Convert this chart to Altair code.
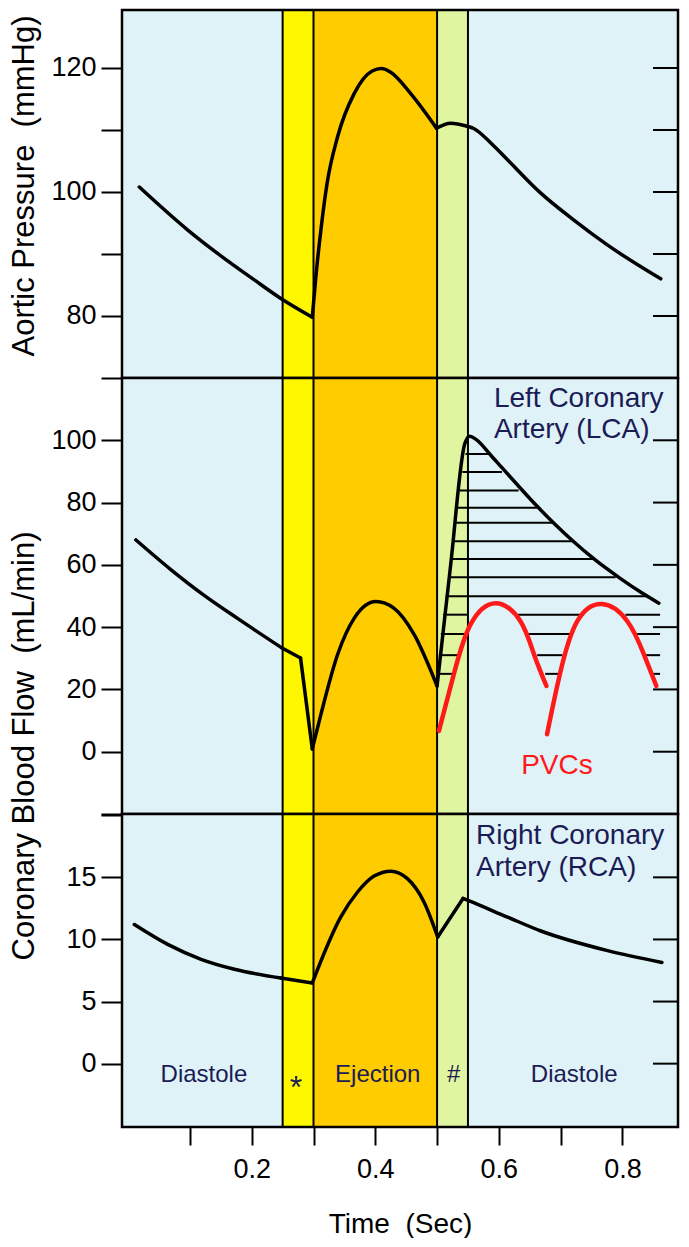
import altair as alt
import pandas as pd

# ---------------- data ----------------
phase_names = ["Late diastole", "Isovolumic contraction", "Ejection", "Isovolumic relaxation", "Early diastole"]
phase_start = [-0.01, 0.25, 0.30, 0.50, 0.55]
phase_end = [0.25, 0.30, 0.50, 0.55, 0.89]
phase_colors = ["#dff2f8", "#fff700", "#ffcc00", "#e0f5a0", "#dff2f8"]
phase_bounds = [0.25, 0.30, 0.50, 0.55]

ao_t = [
    [0.018, 0.096, 0.150, 0.203, 0.249, 0.298],
    [0.298, 0.304, 0.312, 0.322, 0.339, 0.366, 0.395, 0.410, 0.425, 0.457, 0.499],
    [0.499, 0.522, 0.549],
    [0.549, 0.560, 0.587, 0.614, 0.667, 0.721, 0.775, 0.862],
]
ao_p = [
    [100.8, 93.9, 89.7, 85.9, 82.7, 79.8],
    [79.8, 86.5, 93.9, 101.4, 108.9, 115.9, 119.5, 119.9, 119.3, 115.9, 110.3],
    [110.3, 111.1, 110.6],
    [110.6, 110.2, 107.9, 105.2, 99.9, 95.5, 91.5, 86.0],
]

lca_t = [
    [0.0125, 0.069, 0.123, 0.177, 0.249],
    [0.249, 0.279],
    [0.279, 0.298],
    [0.298, 0.312, 0.339, 0.366, 0.401, 0.430, 0.463, 0.500],
    [0.500, 0.522, 0.545, 0.553, 0.563, 0.587, 0.605, 0.635, 0.662, 0.690, 0.719, 0.754, 0.797, 0.830, 0.859],
]
lca_f = [
    [68.0, 58.5, 50.2, 42.8, 33.3],
    [33.3, 30.1],
    [30.1, 0.9],
    [0.9, 12.0, 31.2, 42.9, 48.2, 46.1, 37.6, 21.1],
    [21.1, 60.0, 99.0, 101.3, 100.3, 95.2, 91.2, 84.6, 78.8, 73.2, 67.8, 61.9, 55.6, 51.2, 47.7],
]

pvc_t = [
    [0.503, 0.527, 0.554, 0.595, 0.635, 0.657, 0.677],
    [0.678, 0.700, 0.727, 0.767, 0.808, 0.835, 0.855],
]
pvc_f = [
    [6.7, 24.8, 40.8, 47.7, 41.9, 31.2, 21.1],
    [5.6, 25.9, 41.9, 47.4, 41.9, 31.2, 21.1],
]

hatch_f = [95.6, 89.8, 83.9, 78.3, 73.5, 67.6, 61.9, 56.0, 49.9,
           44.0, 44.0, 44.0, 37.8, 37.8, 37.8, 31.0, 31.0, 31.0, 25.0, 25.0, 25.0]
hatch_t0 = [0.546, 0.541, 0.537, 0.533, 0.530, 0.527, 0.523, 0.518, 0.514,
            0.510, 0.631, 0.805, 0.506, 0.646, 0.818, 0.503, 0.662, 0.835, 0.502, 0.675, 0.848]
hatch_t1 = [0.587, 0.605, 0.632, 0.662, 0.686, 0.719, 0.754, 0.789, 0.843,
            0.551, 0.738, 0.861, 0.545, 0.719, 0.861, 0.536, 0.703, 0.861, 0.527, 0.697, 0.861]

rca_t = [
    [0.010, 0.064, 0.118, 0.172, 0.247],
    [0.247, 0.298],
    [0.298, 0.344, 0.371, 0.398, 0.425, 0.452, 0.479, 0.501],
    [0.501, 0.542],
    [0.542, 0.552, 0.614, 0.667, 0.776, 0.864],
]
rca_f = [
    [11.2, 9.6, 8.4, 7.6, 6.9],
    [6.9, 6.5],
    [6.5, 11.8, 13.8, 15.1, 15.5, 14.9, 13.0, 10.2],
    [10.2, 13.3],
    [13.3, 13.1, 11.8, 10.7, 9.1, 8.15],
]

top_ticks = [70, 80, 90, 100, 110, 120]
mid_ticks = [-20, 0, 20, 40, 60, 80, 100]
bot_ticks = [0, 5, 10, 15, 20]
time_ticks = [0.1, 0.2, 0.3, 0.4, 0.5, 0.6, 0.7, 0.8]
top_inner = [80, 90, 100, 110, 120]
mid_inner = [0, 20, 40, 60, 80, 100]
bot_inner = [0, 5, 10, 15]

top_title = "Aortic Pressure\u00a0 (mmHg)"
flow_title = "Coronary Blood Flow\u00a0 (mL/min)"
time_title = "Time\u00a0 (Sec)"

lca_labels = ["Left Coronary", "Artery (LCA)"]
lca_label_t = [0.592, 0.592]
lca_label_f = [110.7, 100.7]
rca_labels = ["Right Coronary", "Artery (RCA)"]
rca_label_t = [0.563, 0.563]
rca_label_f = [17.68, 15.1]
pvc_label = ["PVCs"]
pvc_label_t = [0.694]
pvc_label_f = [-7.1]
phase_labels = ["Diastole", "Ejection", "#", "Diastole"]
phase_label_t = [0.1226, 0.404, 0.527, 0.722]
phase_label_v = [-1.48, -1.48, -1.48, -1.48]
star_label = ["*"]
star_label_t = [0.2715]
star_label_v = [-2.75]

# ---------------- helpers ----------------
W = 556
H_TOP, H_MID, H_BOT = 368, 436, 313
FONT = "Liberation Sans, Arial, sans-serif"
TEXT_COLOR = "#1b1b55"

xscale = alt.Scale(domain=[-0.01, 0.89], nice=False, zero=False)


def seg_df(ts, vs):
    rows = []
    for i, (tt, vv) in enumerate(zip(ts, vs)):
        for a, b in zip(tt, vv):
            rows.append({"t": a, "v": b, "seg": i})
    return pd.DataFrame(rows)


bands_df = pd.DataFrame({"start": phase_start, "end": phase_end, "phase": phase_names})
bounds_df = pd.DataFrame({"t": phase_bounds})


def panel(H, yscale, yaxis, xaxis, curves, inner_ticks, extra=()):
    layers = []
    layers.append(
        alt.Chart(bands_df).mark_rect().encode(
            x=alt.X("start:Q", scale=xscale, axis=xaxis),
            x2="end:Q",
            y=alt.value(0),
            y2=alt.value(H),
            color=alt.Color("phase:N", scale=alt.Scale(domain=phase_names, range=phase_colors), legend=None),
        )
    )
    layers.append(
        alt.Chart(bounds_df).mark_rule(color="black", strokeWidth=2).encode(
            x=alt.X("t:Q", scale=xscale, axis=xaxis),
            y=alt.value(0),
            y2=alt.value(H),
        )
    )
    layers.extend(extra)
    for df, color, sw, interp in curves:
        layers.append(
            alt.Chart(df).mark_line(color=color, strokeWidth=sw, interpolate=interp,
                                    strokeCap="round", strokeJoin="round").encode(
                x=alt.X("t:Q", scale=xscale, axis=xaxis),
                y=alt.Y("v:Q", scale=yscale, axis=yaxis),
                detail="seg:N",
            )
        )
    layers.append(
        alt.Chart(pd.DataFrame({"v": inner_ticks})).mark_rule(color="black", strokeWidth=2).encode(
            x=alt.value(W - 25),
            x2=alt.value(W),
            y=alt.Y("v:Q", scale=yscale, axis=yaxis),
        )
    )
    return layers


def text_layer(labels, ts, vs, yscale, yaxis, xaxis, size, color, align, baseline="alphabetic"):
    df = pd.DataFrame({"t": ts, "v": vs, "label": labels})
    return alt.Chart(df).mark_text(align=align, baseline=baseline, font=FONT, fontSize=size, color=color).encode(
        x=alt.X("t:Q", scale=xscale, axis=xaxis),
        y=alt.Y("v:Q", scale=yscale, axis=yaxis),
        text="label:N",
    )


def side_title(text, ypos):
    return alt.Chart(alt.Data(values=[{"label": text}])).mark_text(
        angle=270, align="center", baseline="bottom", font=FONT, fontSize=31, color="black"
    ).encode(x=alt.value(-81), y=alt.value(ypos), text="label:N")


def frame(H):
    return alt.Chart(alt.Data(values=[{}])).mark_rect(filled=False, stroke="black", strokeWidth=2.5).encode(
        x=alt.value(0), x2=alt.value(W), y=alt.value(0), y2=alt.value(H)
    )


top_scale = alt.Scale(domain=[70, 129.35], nice=False, zero=False)
top_axis = alt.Axis(values=top_ticks, labelExpr="datum.value % 20 == 0 ? datum.label : ''", title=None)
top_layers = panel(H_TOP, top_scale, top_axis, None,
                   [(seg_df(ao_t, ao_p), "black", 3.5, "monotone")], top_inner)
top_layers.append(frame(H_TOP))
top_layers.append(side_title(top_title, 176))
top = alt.layer(*top_layers).properties(width=W, height=H_TOP)

mid_scale = alt.Scale(domain=[-20, 120], nice=False, zero=False)
mid_axis = alt.Axis(values=mid_ticks, labelExpr="datum.value >= 0 ? datum.label : ''", title=None)
hatch_df = pd.DataFrame({"t0": hatch_t0, "t1": hatch_t1, "v": hatch_f})
hatch = alt.Chart(hatch_df).mark_rule(color="black", strokeWidth=2).encode(
    x=alt.X("t0:Q", scale=xscale, axis=None),
    x2="t1:Q",
    y=alt.Y("v:Q", scale=mid_scale, axis=mid_axis),
)
mid_layers = panel(H_MID, mid_scale, mid_axis, None,
                   [(seg_df(lca_t, lca_f), "black", 3.5, "monotone"),
                    (seg_df(pvc_t, pvc_f), "#ff1a1a", 4.5, "natural")],
                   mid_inner, extra=[hatch])
mid_layers.append(text_layer(lca_labels, lca_label_t, lca_label_f, mid_scale, mid_axis, None, 28, TEXT_COLOR, "left"))
mid_layers.append(text_layer(pvc_label, pvc_label_t, pvc_label_f, mid_scale, mid_axis, None, 28, "#ff1a1a", "center"))
mid_layers.append(frame(H_MID))
mid = alt.layer(*mid_layers).properties(width=W, height=H_MID)

bot_scale = alt.Scale(domain=[-5.1, 20.1], nice=False, zero=False)
bot_axis = alt.Axis(values=bot_ticks, labelExpr="datum.value <= 15 ? datum.label : ''", title=None)
x_axis = alt.Axis(values=time_ticks, format=".1f", labelExpr="round(datum.value * 10) % 2 == 0 ? datum.label : ''",
                  title=time_title, tickSize=18, labelPadding=11, titleY=83, titleFontSize=28,
                  labelFlush=False)
bot_layers = panel(H_BOT, bot_scale, bot_axis, x_axis,
                   [(seg_df(rca_t, rca_f), "black", 3.5, "monotone")], bot_inner)
bot_layers.append(text_layer(rca_labels, rca_label_t, rca_label_f, bot_scale, bot_axis, x_axis, 28, TEXT_COLOR, "left"))
bot_layers.append(text_layer(phase_labels, phase_label_t, phase_label_v, bot_scale, bot_axis, x_axis, 24, TEXT_COLOR, "center"))
bot_layers.append(text_layer(star_label, star_label_t, star_label_v, bot_scale, bot_axis, x_axis, 32, TEXT_COLOR, "center"))
bot_layers.append(frame(H_BOT))
bot_layers.append(side_title(flow_title, -68))
bot = alt.layer(*bot_layers).properties(width=W, height=H_BOT)

chart = (
    alt.vconcat(top, mid, bot, spacing=0, bounds="flush")
    .properties(padding=0)
    .configure_view(strokeWidth=0)
    .configure_axis(
        labelFont=FONT, labelFontSize=27, labelColor="black", labelOverlap=False,
        tickColor="black", tickWidth=2, tickSize=21, labelPadding=5,
        domain=False, grid=False,
        titleFont=FONT, titleFontSize=31, titleFontWeight="normal", titleColor="black",
    )
)

chart.save("out.html", embed_options={"renderer": "svg", "actions": False})
